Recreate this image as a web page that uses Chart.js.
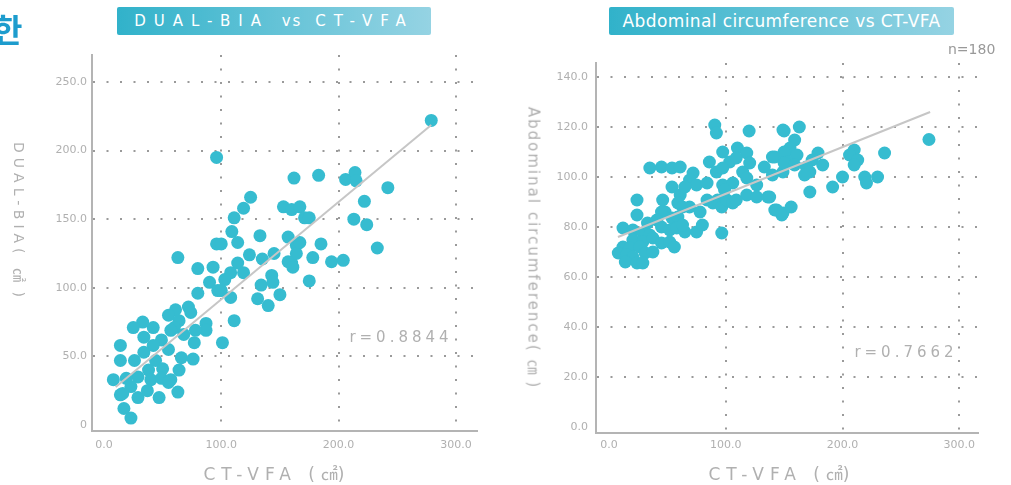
<!DOCTYPE html>
<html>
<head>
<meta charset="utf-8">
<script src="https://cdn.jsdelivr.net/npm/chart.js@4/dist/chart.umd.min.js"></script>
<style>
body { margin:0; background:#fff; width:1011px; height:485px; overflow:hidden; position:relative; font-family:'DejaVu Sans', sans-serif; }
canvas { position:absolute; top:0; }
.txt { position:absolute; white-space:nowrap; color:#b0b0b0; }
.title { position:absolute; top:7px; height:28px; line-height:28px; color:#fff; text-align:center; border-radius:2px;
  background:linear-gradient(to right, #31b2ca, #95d3e3); font-size:15px; }
.rot { transform:translate(-50%,-50%) rotate(90deg); }
.mid { transform:translate(-50%,-50%); }
.unit { font-family:'Noto Sans CJK KR'; letter-spacing:0; }
</style>
</head>
<body>
<canvas id="left" width="505" height="485" style="left:0"></canvas>
<canvas id="right" width="506" height="485" style="left:505px"></canvas>

<div class="txt" style="left:-7px;top:12px;line-height:1;font-size:32px;font-weight:bold;color:#1d9ccd;font-family:'Noto Sans CJK KR'">한</div>
<div class="title" style="left:117px;width:314px;letter-spacing:8px">DUAL-BIA <span style="letter-spacing:2px">vs</span> CT-VFA</div>
<div class="title" style="left:609px;width:345px;font-size:17px;letter-spacing:0.4px">Abdominal circumference vs CT-VFA</div>
<div class="txt" style="left:948px;top:41px;font-size:14px;color:#999">n=180</div>

<div class="txt rot" style="left:20px;top:222px;font-size:14px;letter-spacing:5px">DUAL-BIA( <span class="unit">㎠</span> )</div>
<div class="txt rot" style="left:535px;top:248px;font-size:15px;letter-spacing:2px">Abdominal circumference( <span class="unit">㎝</span> )</div>
<div class="txt mid" style="left:277px;top:472px;font-size:17px;letter-spacing:6px">CT-VFA (<span class="unit">㎠</span>)</div>
<div class="txt mid" style="left:782px;top:472px;font-size:17px;letter-spacing:6px">CT-VFA (<span class="unit">㎠</span>)</div>
<div class="txt mid" style="left:401px;top:337px;font-size:15px;letter-spacing:4px">r=0.8844</div>
<div class="txt mid" style="left:906px;top:352px;font-size:15px;letter-spacing:4px">r=0.7662</div>

<script>
const leftX = [96,162,125,119,111,153,160,109,114,96,100,133,63,157,124,135,145,80,93,114,119,108,103,90,143,160,134,150,80,97,108,100,131,140,111,101,72,61,55,64,60,74,87,87,78,77,68,57,49,33,25,42,34,42,55,66,76,64,14,14,26,34,44,50,38,29,19,8,40,49,57,63,47,23,14,29,37,17,23,16,55,279,183,206,214,215,242,222,167,171,175,213,224,164,164,185,178,157,161,194,204,233,175,167,144]
const leftY = [195,180,166,158,151,159,157,141,133,132,132,138,122,137,124,121,125,114,115,118,111,111,106,104,109,118,102,95,96,98,93,98,92,87,76,60,86,84,80,76,71,82,74,69,69,60,66,69,62,75,71,71,64,58,55,49,48,40,58,47,47,53,47,41,40,35,34,33,33,34,33,24,20,28,22,20,25,12,5,23,31,222,182,179,184,178,173,163,159,151,151,150,146,131,125,132,122,119,115,119,120,129,105,133,104]
const leftFitX = [10, 279]
const leftFitY = [27.7, 218.6]

const rightX = [90.6,92,120,150,97.4,110,118,142,152,86,103.4,109,120.5,35,45,54,61,72,69,75,92,97.4,114.5,118,133,149,54,61,65,84,97.4,106,99,126.5,118,126.5,136,46,48,59,63,69,78,84,89,93,96.6,101,106,109,142,148,24,24,45,33,41,54,59,12,20.5,45,52,58,65,63,75,80,96.6,29,35,20.5,29,37.6,45,52,12,18,26.5,56,8,15,20.5,31,37.6,14,24,29,149,163,159,155,150,161,153,150,140,179,174,183,169,172,167.5,159,140,210,206,213,210,236,274,200,191.5,172,219,220.5,230,143.6,149,156,137.6]
const rightY = [120.8,117.6,118.4,118.4,110,111.6,109.6,108,110,106,106,107.6,105.6,103.6,104,103.6,104,101.6,98.8,96.8,102,103.6,102,99.6,104,102,96,92.8,96,97.6,96.8,97.6,94.8,96.8,92.8,92,92,90.8,86,89.6,88,88,86,90.8,89.6,90.8,88,90.8,89.6,90.8,86.8,84.8,90.8,84.8,86,81.6,82.8,83.6,84,79.6,78.8,80,78.8,79.6,78,80.8,78,80.8,77.6,77.6,76.8,74.8,74,75.6,73.6,74,72,71.6,72,72,69.6,68.8,68,69.6,70,66,65.6,65.6,118.8,120,114.8,111.6,110,108.8,106,105.6,108,109.6,106.8,104.8,104,102,100.8,104.8,100.8,110.8,108.8,106.8,104.8,109.6,115,100,96,94,100,97.6,100,86.8,85.6,88,92]
const rightFitX = [7.7, 275]
const rightFitY = [76, 126]

const dotColor = 'rgba(54, 188, 208, 1)'
const gridColor = '#9a9a9a'
const tickFont = { family: 'DejaVu Sans', size: 11 }

function toPoints(xs, ys) {
    return xs.map((x, i) => ({ x: x, y: ys[i] }))
}

function scatterChart(canvas, xs, ys, fitX, fitY, opts) {
    return new Chart(canvas.getContext('2d'), {
        type: 'scatter',
        data: {
            datasets: [{
                type: 'line',
                data: toPoints(fitX, fitY),
                borderColor: '#c6c6c6',
                borderWidth: 2,
                pointRadius: 0,
                order: 0
            }, {
                data: toPoints(xs, ys),
                backgroundColor: dotColor,
                borderWidth: 0,
                pointRadius: 6.5,
                order: 1
            }]
        },
        options: {
            responsive: false,
            animation: false,
            layout: { padding: opts.padding },
            plugins: { legend: { display: false }, tooltip: { enabled: false } },
            scales: {
                x: {
                    type: 'linear',
                    min: opts.xMin,
                    max: opts.xMax,
                    afterFit: s => { s.height = opts.xHeight },
                    border: { color: '#b4b4b4', width: 2, dash: [2, 11.5] },
                    grid: {
                        drawTicks: false,
                        lineWidth: 2,
                        color: c => c.tick && c.tick.value === 0 ? 'rgba(0,0,0,0)' : gridColor
                    },
                    ticks: {
                        stepSize: 100,
                        includeBounds: false,
                        padding: opts.xPad,
                        color: '#b0b0b0',
                        font: tickFont,
                        callback: v => v.toFixed(1)
                    }
                },
                y: {
                    min: opts.yMin,
                    max: opts.yMax,
                    afterFit: s => { s.width = opts.yWidth },
                    border: { color: '#b4b4b4', width: 2, dash: [2, 11.5] },
                    grid: {
                        drawTicks: false,
                        lineWidth: 2,
                        color: c => c.tick && c.tick.value === 0 ? 'rgba(0,0,0,0)' : gridColor
                    },
                    ticks: {
                        stepSize: opts.yStep,
                        includeBounds: false,
                        padding: opts.yPad,
                        color: '#b0b0b0',
                        font: tickFont,
                        callback: opts.yFormat
                    }
                }
            }
        }
    })
}

scatterChart(document.getElementById('left'), leftX, leftY, leftFitX, leftFitY, {
    padding: { left: 0, right: 28, top: 55, bottom: 0 },
    xMin: -10.2, xMax: 318, yMin: -4.4, yMax: 269.7,
    xHeight: 54, yWidth: 92, xPad: 8, yPad: 5, yStep: 50,
    yFormat: v => v === 0 ? '0' : v.toFixed(1)
})

scatterChart(document.getElementById('right'), rightX, rightY, rightFitX, rightFitY, {
    padding: { left: 0, right: 33, top: 63, bottom: 0 },
    xMin: -11.1, xMax: 316, yMin: -2.4, yMax: 145.6,
    xHeight: 52, yWidth: 91, xPad: 6, yPad: 8, yStep: 20,
    yFormat: v => v.toFixed(1)
})
</script>
</body>
</html>
